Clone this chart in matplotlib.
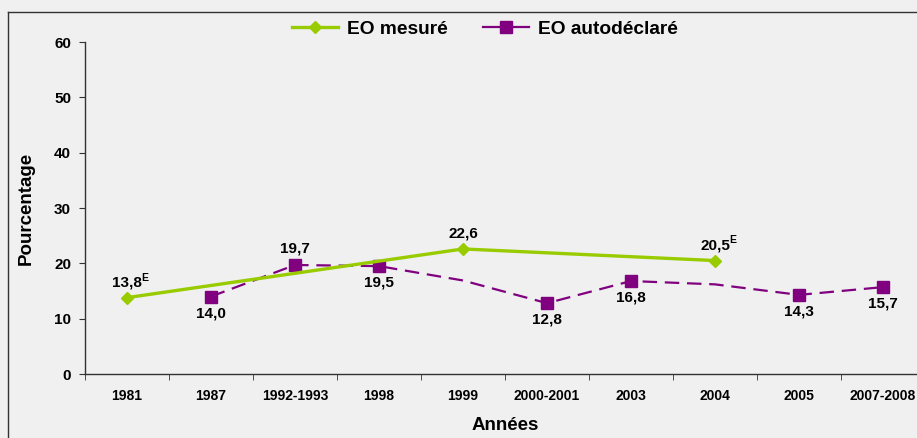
import numpy as np
import matplotlib
matplotlib.use("Agg")
import matplotlib.pyplot as plt
from matplotlib.lines import Line2D

plt.rcParams['font.family'] = ['Liberation Sans', 'DejaVu Sans']
plt.rcParams['font.weight'] = 'bold'

categories = ["1981", "1987", "1992-1993", "1998", "1999", "2000-2001",
              "2003", "2004", "2005", "2007-2008"]
measured_idx = [0, 4, 7]
measured_vals = [13.8, 22.6, 20.5]
measured_labels = ["13,8", "22,6", "20,5"]
measured_flag_E = [True, False, True]

self_vals = [np.nan, 14.0, 19.7, 19.5, 16.9, 12.8, 16.8, 16.2, 14.3, 15.7]
self_marked = [1, 2, 3, 5, 6, 8, 9]
self_labels = {1: "14,0", 2: "19,7", 3: "19,5", 5: "12,8", 6: "16,8",
               8: "14,3", 9: "15,7"}
self_above = {2}

bg = '#eff0ef'
green = '#99cc00'
purple = '#800080'

fig = plt.figure(figsize=(9.17, 4.38), dpi=100, facecolor=bg)
ax = fig.add_axes([85/917, (438-374)/438, 840/917, 332/438])
ax.set_facecolor(bg)

x = np.arange(len(categories))
sv = np.array(self_vals, dtype=float)
mask = ~np.isnan(sv)
ax.plot(x[mask], sv[mask], color=purple, lw=1.6, dashes=(6.5, 3.5),
        marker='s', markersize=8, markevery=[i - 1 for i in self_marked],
        zorder=3)
ax.plot(measured_idx, measured_vals, color=green, lw=2.4, marker='D',
        markersize=6.5, zorder=4)

for i, lab in self_labels.items():
    off = 12 if i in self_above else -12
    ax.annotate(lab, (i, sv[i]), xytext=(0, off), textcoords='offset points',
                ha='center', va='center', fontsize=11, fontweight='bold')
for i, v, lab, e in zip(measured_idx, measured_vals, measured_labels, measured_flag_E):
    ax.annotate(lab, (i, v), xytext=(0, 11), textcoords='offset points',
                ha='center', va='center', fontsize=11, fontweight='bold')
    if e:
        ax.annotate("E", (i, v), xytext=(10.3, 14.5), textcoords='offset points',
                    ha='left', va='center', fontsize=7.5, fontweight='bold')

ax.set_xlim(-0.5, len(categories) - 0.5)
ax.set_ylim(0, 60)
ax.set_yticks(range(0, 61, 10))
ax.set_xticks(x)
ax.set_xticklabels(categories, fontsize=10, fontweight='bold')
ax.set_xticks(np.arange(-0.5, len(categories), 1), minor=True)
ax.tick_params(axis='x', which='major', length=0, pad=11)
ax.tick_params(axis='x', which='minor', length=4, direction='out', color='#333333')
ax.tick_params(axis='y', length=4, direction='out', color='#333333', pad=6,
               labelsize=11)
for t in ax.get_yticklabels():
    t.set_fontweight('bold')
for s in ['top', 'right']:
    ax.spines[s].set_visible(False)
for s in ['left', 'bottom']:
    ax.spines[s].set_color('#333333')
    ax.spines[s].set_linewidth(1.0)

ax.set_ylabel("Pourcentage", fontsize=13.5, fontweight='bold', labelpad=14)
ax.set_xlabel("Années", fontsize=13.5, fontweight='bold', labelpad=10)

handles = [Line2D([], [], color=green, lw=2.4, marker='D', markersize=6.5),
           Line2D([], [], color=purple, lw=1.6, marker='s', markersize=8)]
fig.legend(handles, ["EO mesuré", "EO autodéclaré"], loc='center',
           bbox_to_anchor=(485/917, 1 - 29/438), ncol=2, frameon=False,
           handlelength=2.4, handletextpad=0.5, columnspacing=1.8,
           prop={'weight': 'bold', 'size': 13.8})

# figure border (top and left)
fig.add_artist(Line2D([8/917, 8/917], [0, 1 - 12/438], color='#333333', lw=1.0,
                      transform=fig.transFigure))
fig.add_artist(Line2D([8/917, 1], [1 - 12/438, 1 - 12/438], color='#333333', lw=1.0,
                      transform=fig.transFigure))

fig.savefig("out.png", dpi=100, facecolor=bg)
